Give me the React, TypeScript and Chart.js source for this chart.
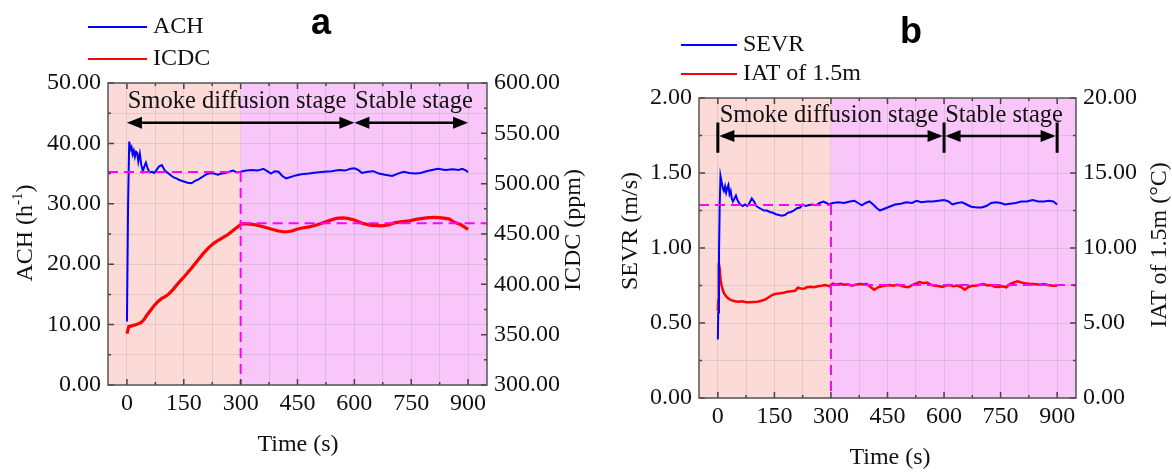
import React, { useEffect, useRef } from "react";
import { Chart, registerables } from "chart.js";
Chart.register(...registerables);

const SERIF = "'Liberation Serif', 'Times New Roman', serif";
const SANS = "'Liberation Sans', Arial, sans-serif";

// ---------------- Panel a data ----------------
const achTime = [0, 3, 6, 9, 12, 15, 18, 21, 24, 27, 30, 34, 38, 42, 46, 50, 55, 60, 66, 72, 78, 85, 92, 99, 106, 114, 122, 130, 140, 150, 160, 170, 180, 190, 200, 210, 220, 230, 240, 250, 260, 270, 280, 290, 300, 315, 330, 345, 360, 370, 380, 390, 400, 410, 420, 430, 445, 460, 480, 500, 520, 540, 560, 575, 590, 600, 610, 620, 635, 650, 665, 680, 700, 715, 730, 745, 760, 775, 790, 805, 820, 840, 860, 875, 885, 895, 900];
const achValues = [10.5, 30.0, 40.3, 39.0, 39.4, 38.2, 38.8, 37.8, 38.6, 38.4, 37.0, 38.3, 36.4, 35.4, 36.2, 36.8, 35.8, 35.2, 35.3, 35.1, 35.6, 36.2, 36.4, 35.6, 35.2, 34.8, 34.4, 34.2, 33.9, 33.7, 33.5, 33.4, 33.8, 34.1, 34.5, 34.9, 35.1, 35.0, 34.8, 35.0, 35.1, 35.3, 35.5, 35.2, 35.3, 35.5, 35.6, 35.5, 35.8, 35.4, 35.0, 35.4, 35.3, 34.6, 34.2, 34.4, 34.7, 34.9, 35.0, 35.2, 35.3, 35.4, 35.6, 35.5, 35.8, 35.9, 35.6, 35.1, 35.3, 35.4, 35.0, 34.8, 34.6, 35.0, 35.3, 35.1, 35.0, 35.1, 35.4, 35.6, 35.8, 35.6, 35.7, 35.6, 35.8, 35.5, 35.2];
const icdcTime = [0, 5, 15, 25, 37, 45, 52, 60, 70, 82, 92, 102, 112, 122, 135, 152, 170, 187, 200, 217, 230, 242, 255, 265, 275, 285, 295, 302, 320, 340, 362, 380, 400, 417, 435, 450, 462, 480, 500, 512, 530, 552, 570, 582, 600, 622, 645, 672, 690, 705, 722, 745, 762, 790, 812, 830, 850, 862, 880, 890, 900];
const icdcValues = [351, 358, 359, 360, 362, 365, 369, 373, 378, 383, 386, 388, 391, 395, 401, 408, 416, 424, 430, 437, 441, 444, 447, 449, 452, 455, 458, 460, 460, 459, 457, 455, 453, 452, 453, 455, 456, 457, 459, 460.5, 463, 465.5, 466, 465.5, 464, 460.5, 458.5, 458, 459, 461, 462, 463, 464.5, 466, 466.5, 466, 465, 462, 459.5, 457, 454.6];

// ---------------- Panel b data ----------------
const sevrTime = [0, 1, 3, 5, 7, 10, 13, 16, 19, 22, 25, 28, 31, 34, 37, 40, 44, 48, 52, 56, 60, 66, 72, 78, 84, 90, 96, 102, 108, 115, 122, 130, 138, 146, 154, 162, 170, 178, 186, 194, 202, 210, 218, 225, 232, 240, 250, 260, 270, 280, 288, 295, 305, 320, 335, 350, 362, 372, 382, 392, 402, 412, 422, 430, 440, 455, 470, 485, 500, 515, 527, 540, 555, 570, 585, 600, 612, 622, 635, 648, 660, 672, 688, 700, 712, 725, 738, 750, 762, 775, 790, 805, 820, 835, 850, 865, 878, 890, 900];
const sevrValues = [0.39, 0.57, 0.95, 1.3, 1.48, 1.44, 1.4, 1.38, 1.41, 1.37, 1.4, 1.42, 1.36, 1.38, 1.33, 1.31, 1.33, 1.35, 1.32, 1.3, 1.29, 1.28, 1.29, 1.28, 1.3, 1.33, 1.31, 1.28, 1.27, 1.26, 1.25, 1.25, 1.24, 1.235, 1.225, 1.22, 1.215, 1.22, 1.235, 1.24, 1.25, 1.265, 1.27, 1.29, 1.28, 1.285, 1.29, 1.285, 1.3, 1.31, 1.3, 1.29, 1.3, 1.305, 1.3, 1.31, 1.315, 1.3, 1.285, 1.3, 1.31, 1.29, 1.265, 1.25, 1.26, 1.275, 1.29, 1.295, 1.305, 1.3, 1.315, 1.305, 1.31, 1.31, 1.315, 1.32, 1.31, 1.29, 1.3, 1.305, 1.29, 1.275, 1.27, 1.27, 1.28, 1.3, 1.305, 1.3, 1.29, 1.295, 1.3, 1.31, 1.31, 1.32, 1.31, 1.31, 1.315, 1.31, 1.29];
const iatTime = [0, 1, 2, 3, 5, 7, 10, 13, 16, 20, 25, 30, 38, 46, 55, 65, 75, 85, 95, 105, 115, 125, 135, 145, 155, 165, 175, 185, 195, 205, 212, 220, 228, 236, 245, 255, 265, 275, 285, 295, 305, 315, 325, 335, 345, 355, 365, 375, 385, 395, 405, 415, 425, 435, 445, 455, 465, 475, 485, 495, 505, 515, 525, 535, 545, 555, 565, 575, 585, 595, 605, 615, 625, 635, 645, 655, 665, 675, 685, 695, 705, 715, 725, 735, 745, 755, 765, 775, 785, 795, 805, 815, 825, 835, 845, 855, 865, 875, 885, 895, 900];
const iatValues = [5.8, 6.5, 8.0, 9.0, 8.6, 7.9, 7.5, 7.2, 7.0, 6.85, 6.7, 6.6, 6.5, 6.45, 6.42, 6.45, 6.38, 6.38, 6.4, 6.42, 6.48, 6.56, 6.72, 6.88, 6.95, 6.98, 7.02, 7.09, 7.12, 7.15, 7.36, 7.3, 7.28, 7.38, 7.42, 7.38, 7.45, 7.48, 7.53, 7.45, 7.62, 7.55, 7.62, 7.55, 7.58, 7.49, 7.55, 7.6, 7.58, 7.6, 7.4, 7.22, 7.38, 7.45, 7.5, 7.53, 7.48, 7.55, 7.5, 7.42, 7.38, 7.52, 7.62, 7.73, 7.65, 7.7, 7.55, 7.48, 7.47, 7.4, 7.5, 7.53, 7.45, 7.5, 7.4, 7.22, 7.4, 7.48, 7.49, 7.55, 7.6, 7.5, 7.53, 7.42, 7.4, 7.45, 7.38, 7.6, 7.7, 7.78, 7.7, 7.65, 7.62, 7.6, 7.58, 7.55, 7.6, 7.53, 7.5, 7.48, 7.49];

// stages / reference levels
const shadeSplit = 300;
const stageMarks = [0, 600, 900];
const stageLabels = ["Smoke diffusion stage", "Stable stage"];
const achRef = 35.25;
const icdcRef = 460.6;
const sevrRef = 1.287;
const iatRef = 7.53;

const PINK = "rgb(251,218,216)";
const VIOLET = "rgb(249,198,250)";
const GRID = "rgba(120,120,120,0.18)";
const FRAME = "#555";
const TXT = "#111";
const MAGENTA = "#ff00ff";

type Part = { t: string; sup?: boolean };

function drawParts(ctx: CanvasRenderingContext2D, parts: Part[], cx: number, cy: number, size: number, rot: number) {
  ctx.save();
  ctx.translate(cx, cy);
  ctx.rotate(rot);
  let total = 0;
  const widths = parts.map((p) => {
    ctx.font = `${p.sup ? Math.round(size * 0.62) : size}px ${SERIF}`;
    const w = ctx.measureText(p.t).width;
    total += w;
    return w;
  });
  let x = -total / 2;
  ctx.fillStyle = TXT;
  ctx.textBaseline = "middle";
  ctx.textAlign = "left";
  parts.forEach((p, i) => {
    ctx.font = `${p.sup ? Math.round(size * 0.62) : size}px ${SERIF}`;
    ctx.fillText(p.t, x, p.sup ? -size * 0.32 : 0);
    x += widths[i];
  });
  ctx.restore();
}

function head(ctx: CanvasRenderingContext2D, tip: number, y: number, dir: number) {
  const L = 15, W = 6;
  ctx.beginPath();
  ctx.moveTo(tip, y);
  ctx.lineTo(tip - dir * L, y - W);
  ctx.lineTo(tip - dir * L, y + W);
  ctx.closePath();
  ctx.fill();
}

type Series = { label: string; color: string; width: number; time: number[]; values: number[]; axis: string };
type AxisSpec = { min: number; max: number; step: number; major: number; title: Part[]; titlePos: [number, number] };
type PanelSpec = {
  canvasLeft: number;
  width: number;
  height: number;
  area: { left: number; right: number; top: number; bottom: number };
  y1: AxisSpec;
  y2: AxisSpec;
  series: Series[];
  ref1: number;
  ref2: number;
  arrowY: number;
  bars: [number, number] | null;
  textY: number;
  textX: [number, number];
  legend: { x1: number; x2: number; tx: number; ys: number[] };
  letter: { t: string; x: number; y: number };
  xTitlePos: [number, number];
};

function makePlugin(spec: PanelSpec) {
  return {
    id: "deco",
    beforeDraw(chart: any) {
      const { ctx, chartArea: a, scales } = chart;
      const xs = scales.x.getPixelForValue(shadeSplit);
      ctx.save();
      ctx.fillStyle = PINK;
      ctx.fillRect(a.left, a.top, xs - a.left, a.bottom - a.top);
      ctx.fillStyle = VIOLET;
      ctx.fillRect(xs, a.top, a.right - xs, a.bottom - a.top);
      ctx.restore();
    },
    afterDatasetsDraw(chart: any) {
      const { ctx, chartArea: a, scales } = chart;
      const x = scales.x, y = scales.y, y2 = scales.y2;
      const xs = x.getPixelForValue(shadeSplit);
      const r1 = y.getPixelForValue(spec.ref1);
      const r2 = y2.getPixelForValue(spec.ref2);
      ctx.save();
      ctx.strokeStyle = MAGENTA;
      ctx.lineWidth = 2;
      ctx.setLineDash([10, 6]);
      ctx.beginPath();
      ctx.moveTo(a.left, r1);
      ctx.lineTo(xs, r1);
      ctx.moveTo(xs, r1);
      ctx.lineTo(xs, a.bottom);
      ctx.moveTo(xs, r2);
      ctx.lineTo(a.right, r2);
      ctx.stroke();
      ctx.restore();
    },
    afterDraw(chart: any) {
      const { ctx, chartArea: a, scales } = chart;
      const x = scales.x, y = scales.y, y2 = scales.y2;
      ctx.save();
      // inward ticks
      ctx.strokeStyle = "#444";
      ctx.lineWidth = 1.5;
      ctx.beginPath();
      x.ticks.forEach((t: any) => {
        const px = x.getPixelForValue(t.value);
        const len = t.value % 150 === 0 ? 6 : 3;
        ctx.moveTo(px, a.bottom);
        ctx.lineTo(px, a.bottom - len);
        ctx.moveTo(px, a.top);
        ctx.lineTo(px, a.top + len);
      });
      const isMaj = (v: number, m: number) => Math.abs(v / m - Math.round(v / m)) < 1e-6;
      y.ticks.forEach((t: any) => {
        const py = y.getPixelForValue(t.value);
        const len = isMaj(t.value, spec.y1.major) ? 6 : 3;
        ctx.moveTo(a.left, py);
        ctx.lineTo(a.left + len, py);
      });
      y2.ticks.forEach((t: any) => {
        const py = y2.getPixelForValue(t.value);
        const len = isMaj(t.value, spec.y2.major) ? 6 : 3;
        ctx.moveTo(a.right, py);
        ctx.lineTo(a.right - len, py);
      });
      ctx.stroke();
      // frame
      ctx.strokeStyle = FRAME;
      ctx.lineWidth = 1.5;
      ctx.strokeRect(a.left, a.top, a.right - a.left, a.bottom - a.top);

      // arrows
      const ay = y.getPixelForValue(spec.arrowY);
      const m = stageMarks.map((v) => x.getPixelForValue(v));
      ctx.strokeStyle = "#000";
      ctx.fillStyle = "#000";
      ctx.lineWidth = 2.5;
      ctx.beginPath();
      ctx.moveTo(m[0] + 4, ay);
      ctx.lineTo(m[1] - 4, ay);
      ctx.moveTo(m[1] + 4, ay);
      ctx.lineTo(m[2] - 4, ay);
      ctx.stroke();
      const off = spec.bars ? 1.5 : 0;
      head(ctx, m[0] + off, ay, -1);
      head(ctx, m[1] - off, ay, 1);
      head(ctx, m[1] + off, ay, -1);
      head(ctx, m[2] - off, ay, 1);
      if (spec.bars) {
        const b1 = y.getPixelForValue(spec.bars[0]);
        const b2 = y.getPixelForValue(spec.bars[1]);
        ctx.lineWidth = 3;
        ctx.beginPath();
        m.forEach((px) => {
          ctx.moveTo(px, b1);
          ctx.lineTo(px, b2);
        });
        ctx.stroke();
      }
      // stage texts
      ctx.fillStyle = TXT;
      ctx.font = `24.5px ${SERIF}`;
      ctx.textAlign = "left";
      ctx.textBaseline = "alphabetic";
      const ty = y.getPixelForValue(spec.textY);
      ctx.fillText(stageLabels[0], x.getPixelForValue(spec.textX[0]), ty);
      ctx.fillText(stageLabels[1], x.getPixelForValue(spec.textX[1]), ty);

      // legend
      spec.series.forEach((s, i) => {
        const ly = spec.legend.ys[i];
        ctx.strokeStyle = s.color;
        ctx.lineWidth = 2;
        ctx.beginPath();
        ctx.moveTo(spec.legend.x1, ly);
        ctx.lineTo(spec.legend.x2, ly);
        ctx.stroke();
        ctx.fillStyle = TXT;
        ctx.font = `24px ${SERIF}`;
        ctx.textBaseline = "middle";
        ctx.fillText(s.label, spec.legend.tx, ly);
      });
      // panel letter
      ctx.font = `bold 36px ${SANS}`;
      ctx.textAlign = "center";
      ctx.textBaseline = "middle";
      ctx.fillStyle = "#000";
      ctx.fillText(spec.letter.t, spec.letter.x, spec.letter.y);
      ctx.restore();

      // axis titles
      drawParts(ctx, spec.y1.title, spec.y1.titlePos[0], spec.y1.titlePos[1], 24, -Math.PI / 2);
      drawParts(ctx, spec.y2.title, spec.y2.titlePos[0], spec.y2.titlePos[1], 24, -Math.PI / 2);
      drawParts(ctx, [{ t: "Time (s)" }], spec.xTitlePos[0], spec.xTitlePos[1], 24, 0);
    },
  };
}

function yScale(ax: AxisSpec, position: "left" | "right", size: number, showGrid: boolean) {
  const isMaj = (v: number) => Math.abs(v / ax.major - Math.round(v / ax.major)) < 1e-6;
  return {
    type: "linear",
    position,
    min: ax.min,
    max: ax.max,
    afterFit: (s: any) => {
      s.width = size;
    },
    grid: { display: showGrid, color: GRID, lineWidth: 1, drawTicks: false },
    border: { display: false },
    ticks: {
      stepSize: ax.step,
      autoSkip: false,
      padding: 7,
      color: TXT,
      font: { family: SERIF, size: 24 },
      callback: (v: number) => (isMaj(v) ? Number(v).toFixed(2) : ""),
    },
  };
}

function Panel({ spec }: { spec: PanelSpec }) {
  const ref = useRef<HTMLCanvasElement | null>(null);
  useEffect(() => {
    if (!ref.current) return;
    const a = spec.area;
    const chart = new Chart(ref.current, {
      type: "line",
      data: {
        datasets: spec.series.map((s) => ({
          label: s.label,
          data: s.time.map((t, i) => ({ x: t, y: s.values[i] })),
          borderColor: s.color,
          borderWidth: s.width,
          pointRadius: 0,
          fill: false,
          tension: 0,
          yAxisID: s.axis,
        })),
      },
      options: {
        responsive: false,
        animation: false,
        layout: { padding: { top: a.top, left: 0, right: 0, bottom: 0 } },
        plugins: { legend: { display: false }, tooltip: { enabled: false } },
        scales: {
          x: {
            type: "linear",
            position: "bottom",
            min: -50,
            max: 950,
            afterFit: (s: any) => {
              s.height = spec.height - a.bottom;
            },
            grid: { color: GRID, lineWidth: 1, drawTicks: false },
            border: { display: false },
            ticks: {
              stepSize: 75,
              includeBounds: false,
              autoSkip: false,
              maxRotation: 0,
              padding: 4,
              color: TXT,
              font: { family: SERIF, size: 24 },
              callback: (v: number) => (v % 150 === 0 ? String(v) : ""),
            },
          },
          y: yScale(spec.y1, "left", a.left, true),
          y2: yScale(spec.y2, "right", spec.width - a.right, false),
        } as any,
      },
      plugins: [makePlugin(spec) as any],
    } as any);
    return () => chart.destroy();
  }, [spec]);
  return (
    <canvas
      ref={ref}
      width={spec.width}
      height={spec.height}
      style={{ position: "absolute", left: spec.canvasLeft, top: 0, width: spec.width, height: spec.height }}
    />
  );
}

const panelA: PanelSpec = {
  canvasLeft: 0,
  width: 590,
  height: 473,
  area: { left: 108, right: 487, top: 83, bottom: 385 },
  y1: { min: 0, max: 50, step: 5, major: 10, title: [{ t: "ACH (h" }, { t: "-1", sup: true }, { t: ")" }], titlePos: [26, 233] },
  y2: { min: 300, max: 600, step: 25, major: 50, title: [{ t: "ICDC (ppm)" }], titlePos: [574, 230] },
  series: [
    { label: "ACH", color: "#0000ff", width: 2, time: achTime, values: achValues, axis: "y" },
    { label: "ICDC", color: "#ff0000", width: 3.2, time: icdcTime, values: icdcValues, axis: "y2" },
  ],
  ref1: achRef,
  ref2: icdcRef,
  arrowY: 43.4,
  bars: null,
  textY: 45.9,
  textX: [2, 602],
  legend: { x1: 88, x2: 147, tx: 153, ys: [27, 59] },
  letter: { t: "a", x: 321, y: 24 },
  xTitlePos: [298, 445],
};

const panelB: PanelSpec = {
  canvasLeft: 590,
  width: 582,
  height: 473,
  area: { left: 109, right: 486, top: 98, bottom: 398 },
  y1: { min: 0, max: 2, step: 0.25, major: 0.5, title: [{ t: "SEVR (m/s)" }], titlePos: [41, 231] },
  y2: { min: 0, max: 20, step: 2.5, major: 5, title: [{ t: "IAT of 1.5m (°C)" }], titlePos: [570, 245] },
  series: [
    { label: "SEVR", color: "#0000ff", width: 2, time: sevrTime, values: sevrValues, axis: "y" },
    { label: "IAT of 1.5m", color: "#ff0000", width: 2.5, time: iatTime, values: iatValues, axis: "y2" },
  ],
  ref1: sevrRef,
  ref2: iatRef,
  arrowY: 1.747,
  bars: [1.635, 1.836],
  textY: 1.841,
  textX: [5, 603],
  legend: { x1: 91, x2: 147, tx: 153, ys: [45, 74] },
  letter: { t: "b", x: 321, y: 33 },
  xTitlePos: [300, 458],
};

export default function App() {
  return (
    <div style={{ position: "absolute", left: 0, top: 0, width: 1172, height: 473, background: "#fff" }}>
      <Panel spec={panelA} />
      <Panel spec={panelB} />
    </div>
  );
}
